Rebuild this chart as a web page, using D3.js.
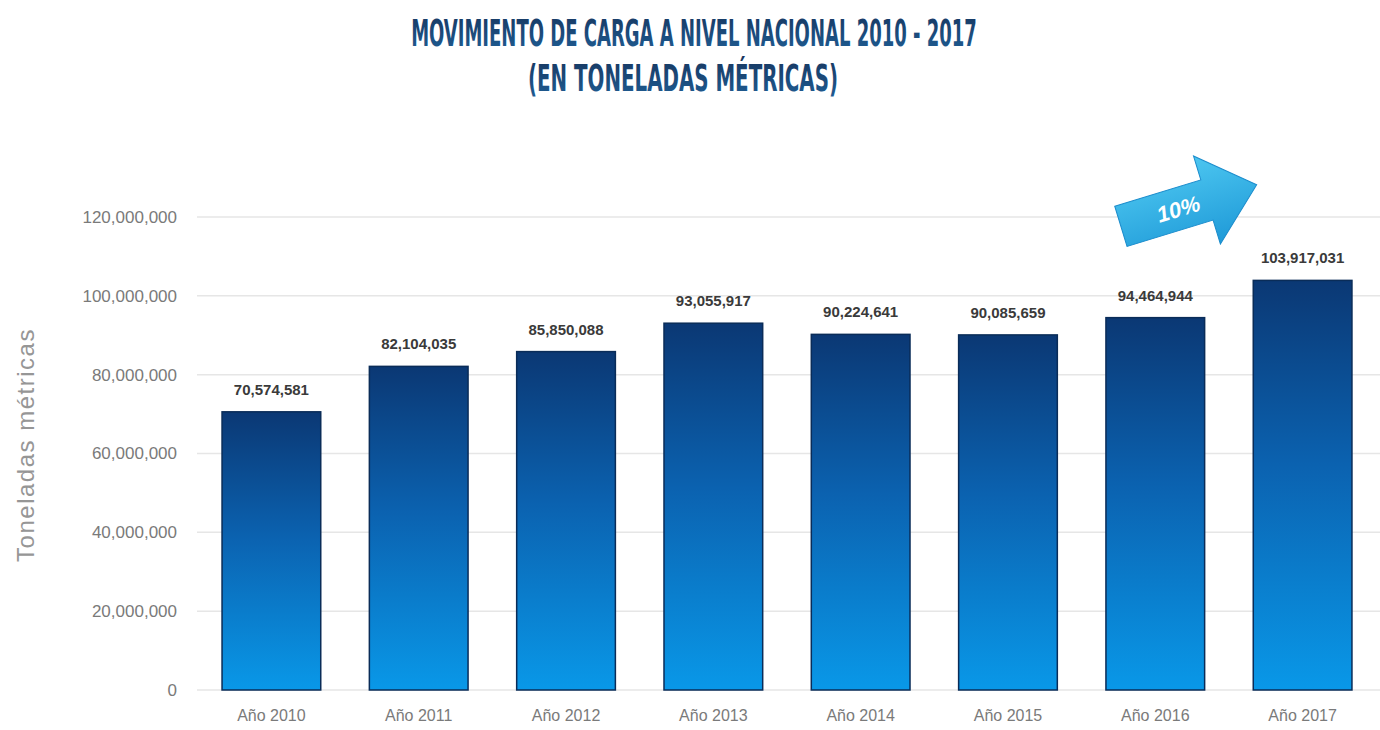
<!DOCTYPE html>
<html>
<head>
<meta charset="utf-8">
<script src="https://cdn.jsdelivr.net/npm/d3@7/dist/d3.min.js"></script>
<style>
  html, body { margin: 0; padding: 0; background: #ffffff; }
  svg { display: block; }
</style>
</head>
<body>
<svg id="chart" width="1380" height="730"></svg>
<script>
// Annual national cargo movement, metric tonnes
const years = ["Año 2010", "Año 2011", "Año 2012", "Año 2013", "Año 2014", "Año 2015", "Año 2016", "Año 2017"];
const tonnes = [70574581, 82104035, 85850088, 93055917, 90224641, 90085659, 94464944, 103917031];
const yTicks = [0, 20000000, 40000000, 60000000, 80000000, 100000000, 120000000];
const titleLines = ["MOVIMIENTO DE CARGA A NIVEL NACIONAL 2010 - 2017", "(EN TONELADAS MÉTRICAS)"];
const yAxisTitle = "Toneladas métricas";
const growthLabel = "10%";

const svg = d3.select("#chart");
const margin = { left: 197, right: 3, top: 217, bottom: 40 };
const W = 1380, H = 730;

const x = d3.scaleBand()
  .domain(years)
  .range([margin.left, W - margin.right])
  .paddingInner(0.33)
  .paddingOuter(0.17);

const y = d3.scaleLinear()
  .domain([0, 120000000])
  .range([H - margin.bottom, margin.top]);

const fmt = d3.format(",");

// Bar gradient: navy at the top fading into bright blue at the base
const defs = svg.append("defs");
const grad = defs.append("linearGradient")
  .attr("id", "barGrad")
  .attr("x1", 0).attr("y1", 0).attr("x2", 0).attr("y2", 1);
grad.append("stop").attr("offset", "0%").attr("stop-color", "#0b3874");
grad.append("stop").attr("offset", "45%").attr("stop-color", "#0b62b0");
grad.append("stop").attr("offset", "100%").attr("stop-color", "#0998e8");

const arrowGrad = defs.append("linearGradient")
  .attr("id", "arrowGrad")
  .attr("x1", 0).attr("y1", 0).attr("x2", 0).attr("y2", 1);
arrowGrad.append("stop").attr("offset", "0%").attr("stop-color", "#4cc6f0");
arrowGrad.append("stop").attr("offset", "100%").attr("stop-color", "#1f9ad8");

const titleGrad = defs.append("linearGradient")
  .attr("id", "titleGrad")
  .attr("x1", 0).attr("y1", 0).attr("x2", 0).attr("y2", 1);
titleGrad.append("stop").attr("offset", "0%").attr("stop-color", "#17365f");
titleGrad.append("stop").attr("offset", "100%").attr("stop-color", "#1f5f96");

// Title, two centred lines squeezed horizontally to a condensed look
const titleAttrs = [
  { x: 694, y: 46, len: 566 },
  { x: 683, y: 91, len: 310 }
];
titleLines.forEach((line, i) => {
  const g = svg.append("g");
  const t = g.append("text")
    .attr("x", 0).attr("y", 0)
    .attr("text-anchor", "middle")
    .attr("font-family", "'Liberation Sans Narrow', 'DejaVu Sans Condensed', sans-serif")
    .attr("font-weight", "bold")
    .attr("font-size", 37)
    .attr("fill", "url(#titleGrad)")
    .text(line);
  const natural = t.node().getComputedTextLength();
  const sx = titleAttrs[i].len / natural;
  g.attr("transform", `translate(${titleAttrs[i].x},${titleAttrs[i].y}) scale(${sx},1)`);
});

// Gridlines
svg.append("g")
  .selectAll("line")
  .data(yTicks)
  .join("line")
  .attr("x1", margin.left)
  .attr("x2", W)
  .attr("y1", d => y(d))
  .attr("y2", d => y(d))
  .attr("stroke", "#e6e6e6")
  .attr("stroke-width", 1.5);

// Y axis labels
const yAxis = d3.axisLeft(y)
  .tickValues(yTicks)
  .tickFormat(fmt)
  .tickSize(0)
  .tickPadding(20);
const yg = svg.append("g")
  .attr("transform", `translate(${margin.left},0)`)
  .call(yAxis);
yg.select(".domain").remove();
yg.selectAll("text")
  .attr("font-family", "'Liberation Sans', Arial, sans-serif")
  .attr("font-size", 17)
  .attr("fill", "#7a7a7a");

// Y axis title
svg.append("text")
  .attr("transform", "translate(34,445) rotate(-90)")
  .attr("text-anchor", "middle")
  .attr("font-family", "'Liberation Sans', Arial, sans-serif")
  .attr("font-size", 24)
  .attr("letter-spacing", 1.5)
  .attr("fill", "#969696")
  .text(yAxisTitle);

// X axis labels
const xAxis = d3.axisBottom(x).tickSize(0).tickPadding(20);
const xg = svg.append("g")
  .attr("transform", `translate(0,${y(0)})`)
  .call(xAxis);
xg.select(".domain").remove();
xg.selectAll("text")
  .attr("font-family", "'Liberation Sans', Arial, sans-serif")
  .attr("font-size", 16)
  .attr("fill", "#7a7a7a");

// Bars
svg.append("g")
  .selectAll("rect")
  .data(tonnes)
  .join("rect")
  .attr("x", (d, i) => x(years[i]))
  .attr("width", x.bandwidth())
  .attr("y", d => y(d))
  .attr("height", d => y(0) - y(d))
  .attr("fill", "url(#barGrad)")
  .attr("stroke", "#0a2c58")
  .attr("stroke-width", 1.5);

// Value labels
svg.append("g")
  .selectAll("text")
  .data(tonnes)
  .join("text")
  .attr("x", (d, i) => x(years[i]) + x.bandwidth() / 2)
  .attr("y", d => y(d) - 17)
  .attr("text-anchor", "middle")
  .attr("font-family", "'Liberation Sans', Arial, sans-serif")
  .attr("font-weight", "bold")
  .attr("font-size", 15)
  .attr("fill", "#3a3a3a")
  .text(d => fmt(d));

// Growth arrow between the last two years
const arrow = svg.append("g")
  .attr("transform", "translate(1184,207) rotate(-17)");
arrow.append("path")
  .attr("d", "M-66,-21 L24,-21 L24,-46 L76,0 L24,46 L24,21 L-66,21 Z")
  .attr("fill", "url(#arrowGrad)")
  .attr("stroke", "#1b8ccc")
  .attr("stroke-width", 1);
arrow.append("text")
  .attr("x", -6).attr("y", 8)
  .attr("text-anchor", "middle")
  .attr("font-family", "'Liberation Sans', Arial, sans-serif")
  .attr("font-weight", "bold")
  .attr("font-style", "italic")
  .attr("font-size", 22)
  .attr("fill", "#ffffff")
  .text(growthLabel);
</script>
</body>
</html>
